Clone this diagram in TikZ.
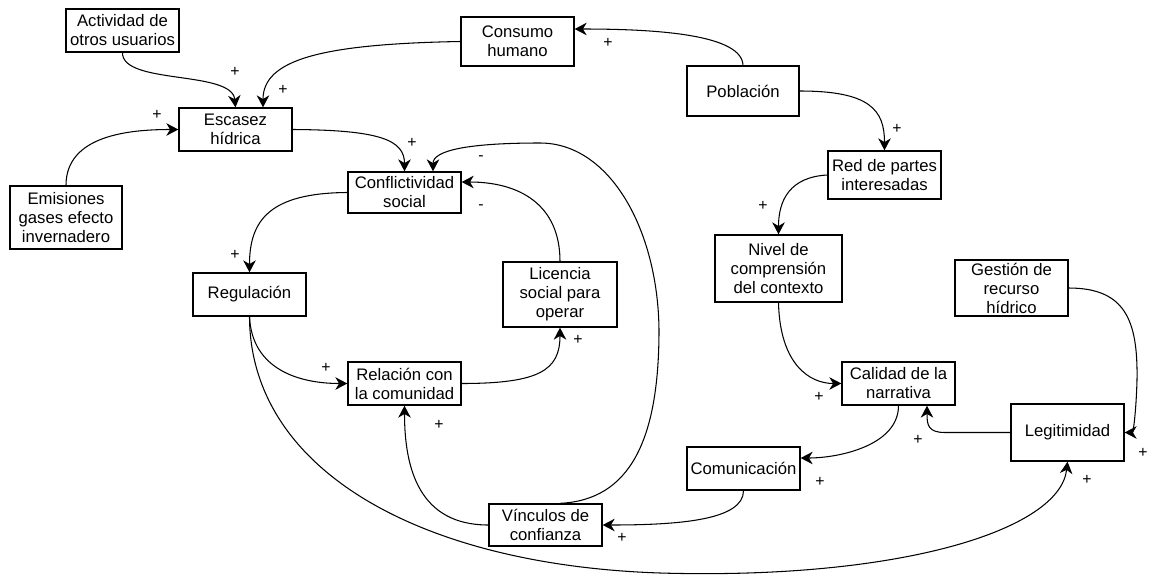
\documentclass[tikz,border=0pt]{standalone}
\usepackage{fontspec}
\setmainfont{Liberation Sans}
\usetikzlibrary{arrows.meta,calc}
\begin{document}
\begin{tikzpicture}[x=0.02cm,y=-0.02cm,
  box/.style={draw, line width=0.75pt, align=center, inner sep=0pt,
    minimum width=2.26cm, font=\fontsize{9.5pt}{10.8pt}\selectfont},
  conn/.style={line width=0.6pt, -{Stealth[length=2.4mm,width=2.5mm,inset=0.75mm]}},
  sgn/.style={inner sep=0pt, font=\fontsize{9pt}{10pt}\selectfont}]
\useasboundingbox (0,0) rectangle (1153,575);

% nodes
\node[box, minimum height=0.86cm] (act) at (122.5,30.5) {Actividad de\\otros usuarios};
\node[box, minimum height=0.98cm] (cons) at (517.5,41.5) {Consumo\\humano};
\node[box, minimum height=1.00cm, minimum width=2.24cm] (pob) at (743,91) {Población};
\node[box, minimum height=0.86cm] (esc) at (235.5,129.5) {Escasez\\hídrica};
\node[box, minimum height=1.26cm, minimum width=2.24cm] (emi) at (66,217.5) {Emisiones\\gases efecto\\invernadero};
\node[box, minimum height=0.82cm] (conf) at (404.5,192.5) {Conflictividad\\social};
\node[box, minimum height=0.96cm] (red) at (884.5,175) {Red de partes\\interesadas};
\node[box, minimum height=1.34cm, minimum width=2.54cm] (niv) at (778.5,268.5) {Nivel de\\comprensión\\del contexto};
\node[box, minimum height=1.12cm] (ges) at (1011.5,288) {Gestión de\\recurso\\hídrico};
\node[box, minimum height=0.86cm] (reg) at (249.5,294.5) {Regulación};
\node[box, minimum height=1.30cm, minimum width=2.28cm] (lic) at (560,294.5) {Licencia\\social para\\operar};
\node[box, minimum height=0.86cm] (rel) at (404.5,383.5) {Relación con\\la comunidad};
\node[box, minimum height=0.86cm] (cal) at (898.5,383.5) {Calidad de la\\narrativa};
\node[box, minimum height=1.14cm] (leg) at (1067.5,432.5) {Legitimidad};
\node[box, minimum height=0.86cm] (com) at (743.5,468.5) {Comunicación};
\node[box, minimum height=0.84cm] (vin) at (545.5,525) {Vínculos de\\confianza};

% connectors
\draw[conn] (act.south) .. controls (122,85) and (232,70) .. (esc.north);
\draw[conn] (cons.west) .. controls (320,44) and (263,60) .. ($(esc.north)+(27.5,0)$);
\draw[conn] (emi.north) .. controls (66,135) and (130,129.5) .. (esc.west);
\draw[conn] (pob.north) .. controls (742,35) and (660,29) .. ($(cons.east)+(0,-12.5)$);
\draw[conn] (pob.east) .. controls (870,91) and (884.5,110) .. (red.north);
\draw[conn] (esc.east) .. controls (380,130) and (404.5,140) .. (conf.north);
\draw[conn] ($(vin.north)+(14.5,0)$) .. controls (630,500) and (659,440) .. (659,330)
   .. controls (658,230) and (610,143) .. (540,143)
   .. controls (470,143) and (433,150) .. ($(conf.north)+(28.5,0)$);
\draw[conn] (lic.north) .. controls (560,205) and (520,182) .. ($(conf.east)+(0,-10.5)$);
\draw[conn] (conf.west) .. controls (270,193) and (249.5,220) .. (reg.north);
\draw[conn] (reg.south) .. controls (252,370) and (300,383.5) .. (rel.west);
\draw[conn] (rel.east) .. controls (540,383.5) and (560,370) .. (lic.south);
\draw[conn] (vin.west) .. controls (420,525) and (404.5,470) .. (rel.south);
\draw[conn] (reg.south) .. controls (250,470) and (420,565) .. (660,573)
   .. controls (900,580) and (1060,530) .. (leg.south);
\draw[conn] (com.south) .. controls (743.5,520) and (680,525) .. (vin.east);
\draw[conn] (cal.south) .. controls (898.5,445) and (840,458) .. ($(com.east)+(0,-10.5)$);
\draw[conn] (leg.west) -- (945,432.5) .. controls (928,432.5) and (927,425) .. ($(cal.south)+(28.5,0)$);
\draw[conn] (ges.east) .. controls (1125,288) and (1138,320) .. (1137,380)
   .. controls (1136,415) and (1133,432.5) .. (leg.east);
\draw[conn] (red.west) .. controls (790,177) and (778.5,200) .. (niv.north);
\draw[conn] (niv.south) .. controls (780,365) and (810,383.5) .. (cal.west);

% signs
\node[sgn] (s1) at (235,72) {+};
\node[sgn] (s2) at (283,90) {+};
\node[sgn] (s3) at (157,115) {+};
\node[sgn] (s4) at (608,43) {+};
\node[sgn] (s5) at (897,129) {+};
\node[sgn] (s6) at (412,143) {+};
\node[sgn] (s7) at (481,158) {-};
\node[sgn] (s8) at (481,207) {-};
\node[sgn] (s9) at (235,255) {+};
\node[sgn] (s10) at (326,368) {+};
\node[sgn] (s11) at (578,340) {+};
\node[sgn] (s12) at (439,425) {+};
\node[sgn] (s13) at (1087,480) {+};
\node[sgn] (s14) at (622,538) {+};
\node[sgn] (s15) at (820,482) {+};
\node[sgn] (s16) at (918,440) {+};
\node[sgn] (s17) at (1143,453) {+};
\node[sgn] (s18) at (763,206) {+};
\node[sgn] (s19) at (819,397) {+};
\end{tikzpicture}
\end{document}
